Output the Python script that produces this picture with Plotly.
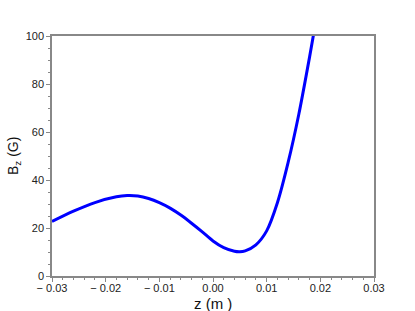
import plotly.graph_objects as go

# Field values
z_m = [-0.030, -0.026, -0.022, -0.018, -0.016, -0.014, -0.012, -0.010,
       -0.008, -0.006, -0.004, -0.002, 0.000, 0.002, 0.004, 0.005,
       0.006, 0.008, 0.010, 0.012, 0.014, 0.016, 0.018, 0.019]
bz_gauss = [22.7, 27.0, 30.6, 33.0, 33.5, 33.3, 32.3, 30.6,
            28.3, 25.4, 22.0, 18.4, 14.6, 11.8, 10.3, 10.1,
            10.5, 13.0, 18.8, 30.5, 47.3, 67.5, 91.3, 104.0]

x_ticks = [-0.03, -0.02, -0.01, 0.0, 0.01, 0.02, 0.03]
x_ticktext = ['\u2212 0.03', '\u2212 0.02', '\u2212 0.01', '0.00', '0.01', '0.02', '0.03']
y_ticks = [0, 20, 40, 60, 80, 100]

fig = go.Figure()
fig.add_trace(go.Scatter(x=z_m, y=bz_gauss, mode='lines',
                         line=dict(color='#0000ff', width=3, shape='spline', smoothing=0.8),
                         showlegend=False))

axis_style = dict(showline=True, linecolor='#888888', linewidth=1.5, mirror=True,
                  ticks='outside', ticklen=4, tickcolor='#888888', tickwidth=1,
                  showgrid=False, zeroline=False, automargin=False,
                  tickfont=dict(family='Liberation Sans, Arial', size=11, color='#222222'))

fig.update_xaxes(range=[-0.03, 0.03], tickvals=x_ticks, ticktext=x_ticktext,
                 ticklabelstandoff=-3,
                 minor=dict(dtick=0.002, ticks='outside', ticklen=2.5, tickcolor='#888888'),
                 **axis_style)
fig.update_yaxes(range=[0, 100], tickvals=y_ticks,
                 minor=dict(dtick=5, ticks='outside', ticklen=2.5, tickcolor='#888888'),
                 **axis_style)

# Axis titles as annotations so their place is fixed
fig.add_annotation(text='z (m )', xref='paper', yref='paper', x=0.5, y=0,
                   xanchor='center', yanchor='top', yshift=-18, borderpad=0,
                   showarrow=False,
                   font=dict(family='Liberation Sans, Arial', size=15, color='#111111'))
fig.add_annotation(text='B<sub>z</sub> (G)', xref='paper', yref='paper', x=0, y=0.5,
                   xanchor='center', yanchor='middle', xshift=-38, textangle=-90,
                   showarrow=False,
                   font=dict(family='Liberation Sans, Arial', size=14, color='#111111'))

fig.update_layout(width=415, height=311,
                  margin=dict(l=52, r=41, t=36, b=35),
                  plot_bgcolor='white', paper_bgcolor='white')

# page body margin would push the figure 8px off the window
fig.write_html("out.html", config={'displayModeBar': False},
               post_script="document.body.style.margin='0';")
